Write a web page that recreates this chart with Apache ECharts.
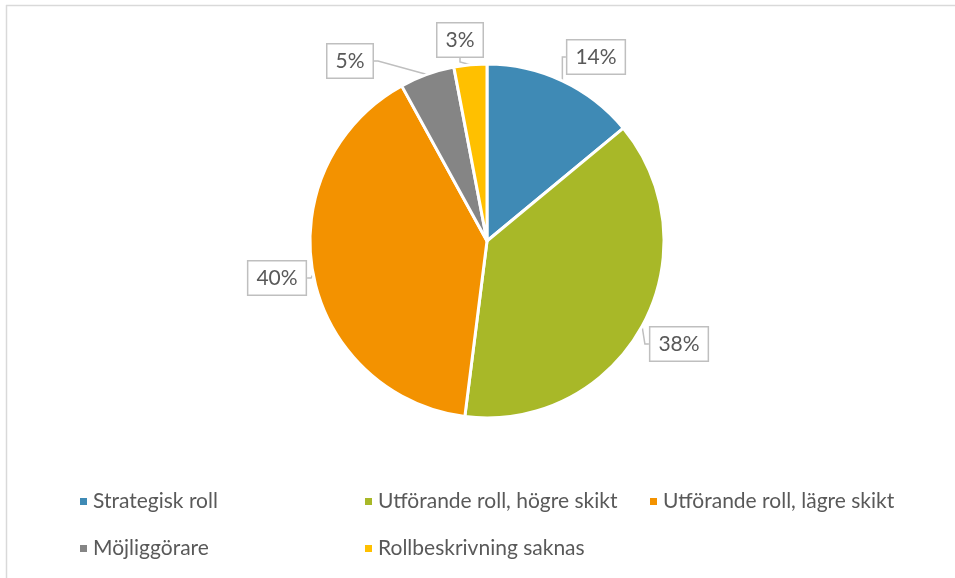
<!DOCTYPE html>
<html>
<head>
<meta charset="utf-8">
<script src="https://cdn.jsdelivr.net/npm/echarts@6/dist/echarts.min.js"></script>
<style>
  html, body { margin: 0; padding: 0; background: #fff; }
  #main { width: 955px; height: 578px; }
</style>
</head>
<body>
<div id="main"></div>
<script>
  // data
  var categories = ['Strategisk roll', 'Utförande roll, högre skikt', 'Utförande roll, lägre skikt', 'Möjliggörare', 'Rollbeskrivning saknas'];
  var shares = [14, 38, 40, 5, 3];
  var colors = ['#3f8ab5', '#a8b828', '#f39200', '#858585', '#ffc000'];

  // where each callout box sits (centre), same order as categories
  var labelSpots = [[596, 57], [679, 344], [277, 278], [350, 61], [460, 40]];

  var myChart = echarts.init(document.getElementById('main'));

  var pieData = categories.map(function (name, i) {
    return { name: name, value: shares[i], itemStyle: { color: colors[i] } };
  });

  var option = {
    backgroundColor: '#fff',
    animation: false,
    textStyle: { fontFamily: 'Lato' },
    graphic: [
      // thin frame round the chart area (top and left edge visible)
      { type: 'line', shape: { x1: 6, y1: 5.5, x2: 955, y2: 5.5 }, style: { stroke: '#d9d9d9', lineWidth: 1.5 } },
      { type: 'line', shape: { x1: 6.5, y1: 5, x2: 6.5, y2: 578 }, style: { stroke: '#d9d9d9', lineWidth: 1.5 } }
    ],
    legend: {
      left: 73,
      top: 473,
      width: 880,
      orient: 'horizontal',
      itemGap: 0,
      itemWidth: 9,
      itemHeight: 9,
      icon: 'rect',
      data: categories,
      textStyle: {
        fontFamily: 'Lato',
        fontSize: 21,
        color: '#595959',
        width: 270,
        lineHeight: 47
      }
    },
    series: [
      {
        type: 'pie',
        center: [487, 241],
        radius: 177,
        startAngle: 90,
        clockwise: true,
        itemStyle: { borderColor: '#fff', borderWidth: 3 },
        label: {
          show: true,
          position: 'outside',
          formatter: '{c}%',
          fontFamily: 'Lato',
          fontSize: 21,
          color: '#595959',
          backgroundColor: '#fff',
          borderColor: '#bfbfbf',
          borderWidth: 1.5,
          padding: [6, 8]
        },
        labelLine: {
          show: true,
          length: 6,
          length2: 4,
          lineStyle: { color: '#bfbfbf', width: 1.5 }
        },
        labelLayout: function (params) {
          var p = labelSpots[params.dataIndex];
          return { x: p[0], y: p[1], align: 'center', verticalAlign: 'middle' };
        },
        data: pieData
      }
    ]
  };
  myChart.setOption(option);
</script>
</body>
</html>
